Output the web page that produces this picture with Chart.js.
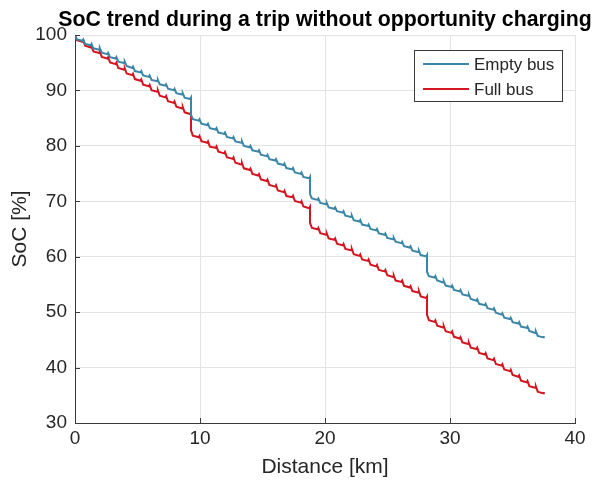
<!DOCTYPE html>
<html lang="en">
<head>
<meta charset="UTF-8">
<title>SoC trend during a trip without opportunity charging</title>
<script src="https://cdn.jsdelivr.net/npm/chart.js"></script>
<style>
    html, body { margin: 0; padding: 0; background: #fff; }
    #wrap { width: 593px; height: 486px; }
</style>
</head>
<body>
<div id="wrap"><canvas id="socChart" width="593" height="486"></canvas></div>
<script>
    // distance along the trip [km], shared by both buses (stops line up)
    const distKm = [
        0.00, 0.15, 0.60, 0.66, 0.81, 1.26, 1.32, 1.47, 1.93, 1.99, 2.14, 2.59, 2.65, 2.80, 3.25,
        3.31, 3.46, 3.92, 3.98, 4.13, 4.58, 4.64, 4.79, 5.24, 5.30, 5.45, 5.91, 5.97, 6.12, 6.57,
        6.63, 6.78, 7.23, 7.29, 7.44, 7.90, 7.96, 8.11, 8.56, 8.62, 8.77, 9.22, 9.28,
        9.28, 9.43, 9.90, 9.96, 10.11, 10.58, 10.64, 10.79, 11.26, 11.32, 11.47, 11.94, 12.00, 12.15, 12.62,
        12.68, 12.83, 13.30, 13.36, 13.51, 13.98, 14.04, 14.19, 14.66, 14.72, 14.87, 15.34, 15.40, 15.55, 16.02,
        16.08, 16.23, 16.70, 16.76, 16.91, 17.38, 17.44, 17.59, 18.06, 18.12, 18.27, 18.74, 18.80,
        18.80, 18.95, 19.41, 19.47, 19.62, 20.08, 20.14, 20.29, 20.75, 20.81, 20.96, 21.42, 21.48, 21.63, 22.09,
        22.15, 22.30, 22.76, 22.82, 22.97, 23.43, 23.49, 23.64, 24.10, 24.16, 24.31, 24.77, 24.83, 24.98, 25.44,
        25.50, 25.65, 26.11, 26.17, 26.32, 26.78, 26.84, 26.99, 27.45, 27.51, 27.66, 28.10, 28.16,
        28.16, 28.31, 28.77, 28.83, 28.98, 29.44, 29.50, 29.65, 30.11, 30.17, 30.32, 30.78, 30.84, 30.99, 31.45,
        31.51, 31.66, 32.12, 32.18, 32.33, 32.79, 32.85, 33.00, 33.46, 33.52, 33.67, 34.13, 34.19, 34.34, 34.80,
        34.86, 35.01, 35.47, 35.53, 35.68, 36.14, 36.20, 36.35, 36.81, 36.87, 37.02, 37.44, 37.50
    ];

    // SoC [%] of the empty bus
    const socEmpty = [
        100.0, 99.2, 98.95, 99.2, 98.4, 98.15, 98.4, 97.6, 97.35, 97.6, 96.8, 96.55, 96.8, 96.0, 95.75,
        96.0, 95.2, 94.95, 95.2, 94.4, 94.05, 94.3, 93.5, 93.25, 93.5, 92.7, 92.45, 92.7, 91.9, 91.65,
        91.9, 91.1, 90.85, 91.1, 90.3, 90.05, 90.3, 89.5, 89.25, 89.5, 88.7, 88.45, 88.7,
        85.6, 84.8, 84.55, 84.8, 84.0, 83.75, 84.0, 83.2, 82.95, 83.2, 82.4, 82.15, 82.4, 81.6, 81.35,
        81.6, 80.8, 80.55, 80.8, 80.0, 79.75, 80.0, 79.2, 78.95, 79.2, 78.4, 78.15, 78.4, 77.6, 77.35,
        77.6, 76.8, 76.55, 76.8, 76.0, 75.75, 76.0, 75.2, 74.95, 75.2, 74.4, 74.15, 74.4,
        71.3, 70.5, 70.25, 70.5, 69.7, 69.45, 69.7, 68.9, 68.65, 68.9, 68.2, 67.95, 68.2, 67.4, 67.15,
        67.4, 66.6, 66.35, 66.6, 65.8, 65.55, 65.8, 65.0, 64.75, 65.0, 64.2, 63.95, 64.2, 63.4, 63.15,
        63.4, 62.7, 62.45, 62.7, 61.9, 61.65, 61.9, 61.1, 60.85, 61.1, 60.3, 60.05, 60.3,
        57.3, 56.5, 56.25, 56.5, 55.7, 55.35, 55.6, 54.8, 54.55, 54.8, 54.0, 53.75, 54.0, 53.2, 52.95,
        53.2, 52.4, 52.05, 52.3, 51.5, 51.25, 51.5, 50.7, 50.45, 50.7, 49.9, 49.55, 49.8, 49.0, 48.75,
        49.0, 48.2, 47.95, 48.2, 47.4, 47.15, 47.4, 46.6, 46.25, 46.5, 45.7, 45.45, 45.7
    ];

    // SoC [%] of the full bus
    const socFull = [
        100.0, 99.05, 98.75, 99.0, 98.05, 97.75, 98.0, 97.05, 96.75, 97.0, 96.05, 95.75, 96.0, 95.05, 94.75,
        95.0, 94.05, 93.75, 94.0, 93.05, 92.75, 93.0, 92.05, 91.75, 92.0, 91.05, 90.75, 91.0, 90.05, 89.75,
        90.0, 89.05, 88.75, 89.0, 88.05, 87.75, 88.0, 87.05, 86.75, 87.0, 86.05, 85.75, 86.0,
        82.8, 81.85, 81.55, 81.8, 80.85, 80.55, 80.8, 79.85, 79.65, 79.9, 78.95, 78.65, 78.9, 77.95, 77.65,
        77.9, 76.95, 76.65, 76.9, 75.95, 75.65, 75.9, 74.95, 74.65, 74.9, 73.95, 73.65, 73.9, 72.95, 72.65,
        72.9, 71.95, 71.65, 71.9, 70.95, 70.75, 71.0, 70.05, 69.75, 70.0, 69.05, 68.75, 69.0,
        66.1, 65.2, 64.95, 65.2, 64.25, 63.95, 64.2, 63.3, 63.05, 63.3, 62.35, 62.05, 62.3, 61.4, 61.15,
        61.4, 60.45, 60.15, 60.4, 59.5, 59.25, 59.5, 58.55, 58.25, 58.5, 57.6, 57.35, 57.6, 56.65, 56.35,
        56.6, 55.7, 55.45, 55.7, 54.75, 54.45, 54.7, 53.8, 53.55, 53.8, 52.85, 52.55, 52.8,
        49.5, 48.55, 48.25, 48.5, 47.55, 47.25, 47.5, 46.55, 46.25, 46.5, 45.55, 45.25, 45.5, 44.55, 44.25,
        44.5, 43.6, 43.35, 43.6, 42.65, 42.35, 42.6, 41.65, 41.35, 41.6, 40.65, 40.35, 40.6, 39.65, 39.35,
        39.6, 38.65, 38.35, 38.6, 37.65, 37.35, 37.6, 36.65, 36.35, 36.6, 35.65, 35.35, 35.6
    ];

    const seriesNames = ['Empty bus', 'Full bus'];
    const xTicks = [0, 10, 20, 30, 40];
    const yTicks = [30, 40, 50, 60, 70, 80, 90, 100];

    const FONT = '"Liberation Sans", Arial, Helvetica, sans-serif';
    const AXIS_COLOR = '#3a3a3a';
    const TEXT_COLOR = '#262626';

    // title, inward tick marks and the boxed legend
    const extras = {
        id: 'extras',
        afterDraw(chart) {
            const ctx = chart.ctx;
            const a = chart.chartArea;
            const sx = chart.scales.x, sy = chart.scales.y;
            ctx.save();

            // tick marks pointing into the plot
            ctx.strokeStyle = AXIS_COLOR;
            ctx.lineWidth = 1;
            ctx.beginPath();
            xTicks.forEach(v => {
                const px = Math.round(sx.getPixelForValue(v)) + 0.5;
                ctx.moveTo(px, a.bottom);
                ctx.lineTo(px, a.bottom - 5);
            });
            yTicks.forEach(v => {
                const py = Math.round(sy.getPixelForValue(v)) + 0.5;
                ctx.moveTo(a.left, py);
                ctx.lineTo(a.left + 5, py);
            });
            ctx.stroke();

            // title
            ctx.fillStyle = '#000';
            ctx.font = 'bold 21.3px ' + FONT;
            ctx.textAlign = 'center';
            ctx.textBaseline = 'alphabetic';
            ctx.fillText('SoC trend during a trip without opportunity charging', (a.left + a.right) / 2, 26);

            // legend
            const x0 = a.right - 161, y0 = a.top + 15, w = 149, h = 52;
            ctx.fillStyle = '#fff';
            ctx.fillRect(x0, y0, w, h);
            ctx.strokeStyle = AXIS_COLOR;
            ctx.strokeRect(x0 + 0.5, y0 + 0.5, w - 1, h - 1);
            ctx.font = '17px ' + FONT;
            ctx.textAlign = 'left';
            ctx.textBaseline = 'middle';
            chart.data.datasets.forEach((ds, i) => {
                const y = y0 + 14 + i * 25;
                ctx.strokeStyle = ds.borderColor;
                ctx.lineWidth = 2;
                ctx.beginPath();
                ctx.moveTo(x0 + 9, y);
                ctx.lineTo(x0 + 55, y);
                ctx.stroke();
                ctx.fillStyle = TEXT_COLOR;
                ctx.fillText(ds.label, x0 + 60, y + 1);
            });
            ctx.restore();
        }
    };

    const ctx = document.getElementById('socChart').getContext('2d');
    const socChart = new Chart(ctx, {
        type: 'line',
        data: {
            datasets: [
                {
                    label: seriesNames[0],
                    data: distKm.map((d, i) => ({ x: d, y: socEmpty[i] })),
                    borderColor: '#3a86a8',
                    borderWidth: 2,
                    pointRadius: 0,
                    tension: 0,
                    fill: false
                },
                {
                    label: seriesNames[1],
                    data: distKm.map((d, i) => ({ x: d, y: socFull[i] })),
                    borderColor: '#d4141e',
                    borderWidth: 2,
                    pointRadius: 0,
                    tension: 0,
                    fill: false
                }
            ]
        },
        options: {
            responsive: false,
            animation: false,
            devicePixelRatio: 1,
            layout: { padding: { top: 35, right: 18, left: 0, bottom: 0 } },
            plugins: {
                legend: { display: false },
                title: { display: false },
                tooltip: { enabled: false }
            },
            scales: {
                x: {
                    type: 'linear',
                    min: xTicks[0],
                    max: xTicks[xTicks.length - 1],
                    afterFit: s => { s.height = 63; },
                    afterBuildTicks: s => { s.ticks = xTicks.map(v => ({ value: v })); },
                    ticks: { color: TEXT_COLOR, font: { family: FONT, size: 19 }, padding: 4, maxRotation: 0 },
                    grid: { color: '#e3e3e3', drawTicks: false },
                    border: { color: AXIS_COLOR, width: 1 },
                    title: {
                        display: true, text: 'Distance [km]', color: TEXT_COLOR,
                        font: { family: FONT, size: 21 }, padding: { top: 0, bottom: 6 }
                    }
                },
                y: {
                    min: yTicks[0],
                    max: yTicks[yTicks.length - 1],
                    afterFit: s => { s.width = 75; },
                    afterBuildTicks: s => { s.ticks = yTicks.map(v => ({ value: v })); },
                    ticks: { color: TEXT_COLOR, font: { family: FONT, size: 19 }, padding: 8 },
                    grid: { color: '#e3e3e3', drawTicks: false },
                    border: { color: AXIS_COLOR, width: 1 },
                    title: {
                        display: true, text: 'SoC [%]', color: TEXT_COLOR,
                        font: { family: FONT, size: 21 }, padding: { top: 8, bottom: 0 }
                    }
                }
            }
        },
        plugins: [extras]
    });
</script>
</body>
</html>
